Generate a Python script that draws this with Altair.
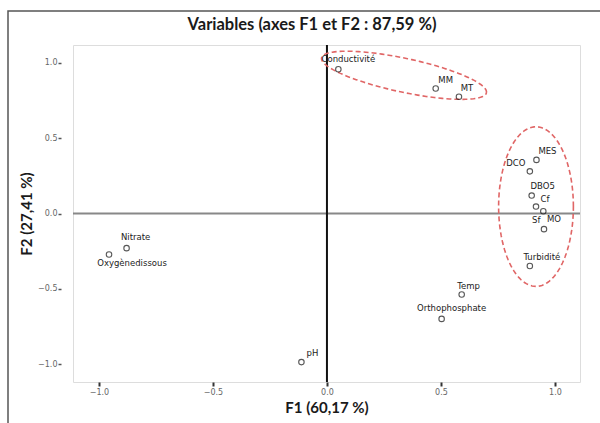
import altair as alt
import pandas as pd
import numpy as np

# ---- data ----
variables = ["Conductivité", "MM", "MT", "MES", "DCO", "DBO5", "Cf", "Sf", "MO",
             "Turbidité", "Nitrate", "Oxygènedissous", "Temp", "Orthophosphate", "pH"]
f1 = [0.050, 0.477, 0.579, 0.919, 0.890, 0.898, 0.917, 0.949, 0.952,
      0.890, -0.879, -0.956, 0.591, 0.503, -0.112]
f2 = [0.958, 0.830, 0.775, 0.356, 0.280, 0.119, 0.046, 0.015, -0.104,
      -0.349, -0.230, -0.272, -0.538, -0.700, -0.987]

# label offsets in pixels (styling only)
label_dx = [10, 10, 8, 11, -14, 11, 9, -7, 10, 12, 9, 23, 7, 10, 11]
label_dy = [-10, -9, -9, -9, -8, -10, -8, 9, -10, -9, -11, 9, -9, -11, -9]

tick_values = [-1.0, -0.5, 0.0, 0.5, 1.0]

title_text = "Variables (axes F1 et F2 : 87,59 %)"
x_title = "F1 (60,17 %)"
y_title = "F2 (27,41 %)"

# annotation ellipses (centre, two half-axis vectors in data units)
ellipse_params = [
    {"g": "top", "c": (0.338, 0.918), "u": (0.3615, -0.116), "v": (0.0155, 0.110)},
    {"g": "right", "c": (0.917, 0.046), "u": (0.164, 0.0), "v": (0.0, 0.53)},
]

df = pd.DataFrame({"var": variables, "F1": f1, "F2": f2})

rows = []
t = np.linspace(0, 2 * np.pi, 121)
for e in ellipse_params:
    for i, tt in enumerate(t):
        rows.append({"g": e["g"], "i": i,
                     "x": e["c"][0] + e["u"][0] * np.cos(tt) + e["v"][0] * np.sin(tt),
                     "y": e["c"][1] + e["u"][1] * np.cos(tt) + e["v"][1] * np.sin(tt)})
ell = pd.DataFrame(rows)

xscale = alt.Scale(domain=[-1.114, 1.110], nice=False, zero=False)
yscale = alt.Scale(domain=[-1.119, 1.119], nice=False, zero=False)

FONT = "DejaVu Sans"
TFONT = "Lato"

xaxis = alt.Axis(values=tick_values, format=".1f", title=x_title, grid=False,
                 domain=False, tickSize=4, tickWidth=2, tickColor="#333",
                 labelFont=FONT, labelFontSize=8, labelColor="#666", labelPadding=2,
                 titleFont=TFONT, titleFontSize=15, titleFontWeight="bold",
                 titleColor="#1a1a1a", titlePadding=4)
yaxis = alt.Axis(values=tick_values, format=".1f", title=y_title, grid=False,
                 domain=False, tickSize=3, tickWidth=1.5, tickColor="#555", offset=12,
                 labelFont=FONT, labelFontSize=8, labelColor="#666", labelPadding=1,
                 titleFont=TFONT, titleFontSize=15, titleFontWeight="bold",
                 titleColor="#1a1a1a", titlePadding=3)

X = alt.X("F1:Q", scale=xscale, axis=xaxis)
Y = alt.Y("F2:Q", scale=yscale, axis=yaxis)

base = alt.Chart(df)

frame = alt.Chart(pd.DataFrame({"a": [0]})).mark_rect(
    fill=None, stroke="#555", strokeWidth=1.5
).encode(x=alt.value(-65), x2=alt.value(640), y=alt.value(-34), y2=alt.value(500))

title_mark = alt.Chart(pd.DataFrame({"t": [title_text]})).mark_text(
    font=TFONT, fontSize=16.5, fontWeight="bold", color="#1a1a1a",
    align="center", baseline="middle"
).encode(x=alt.value(239), y=alt.value(-20), text="t:N")

vline = alt.Chart(pd.DataFrame({"x": [0.0]})).mark_rule(
    color="#111", strokeWidth=2
).encode(x=alt.X("x:Q", scale=xscale, axis=xaxis))

hline = alt.Chart(pd.DataFrame({"y": [0.0]})).mark_rule(
    color="#888", strokeWidth=2
).encode(y=alt.Y("y:Q", scale=yscale, axis=yaxis))

ellipses = alt.Chart(ell).mark_line(
    color="#e06666", strokeWidth=1.6, strokeDash=[5, 3]
).encode(x=alt.X("x:Q", scale=xscale, axis=xaxis),
         y=alt.Y("y:Q", scale=yscale, axis=yaxis),
         detail="g:N", order="i:Q")

points = base.mark_point(
    shape="circle", filled=False, color="#111", size=30, strokeWidth=1.1
).encode(x=X, y=Y)

label_layers = []
for name, dx, dy in zip(variables, label_dx, label_dy):
    label_layers.append(
        base.transform_filter(alt.datum.var == name).mark_text(
            font=FONT, fontSize=8.5, color="#222", align="center", baseline="middle",
            dx=dx, dy=dy
        ).encode(x=X, y=Y, text="var:N")
    )

chart = alt.layer(frame, title_mark, hline, vline, ellipses, points, *label_layers).properties(
    width=507, height=337,
    autosize=alt.AutoSizeParams(type="none"),
    padding={"left": 73, "top": 45, "right": 20, "bottom": 41},
).configure_view(stroke="#6e6e6e", strokeWidth=2).configure(background="white")

chart.save("out.html", embed_options={"renderer": "svg", "actions": False})
